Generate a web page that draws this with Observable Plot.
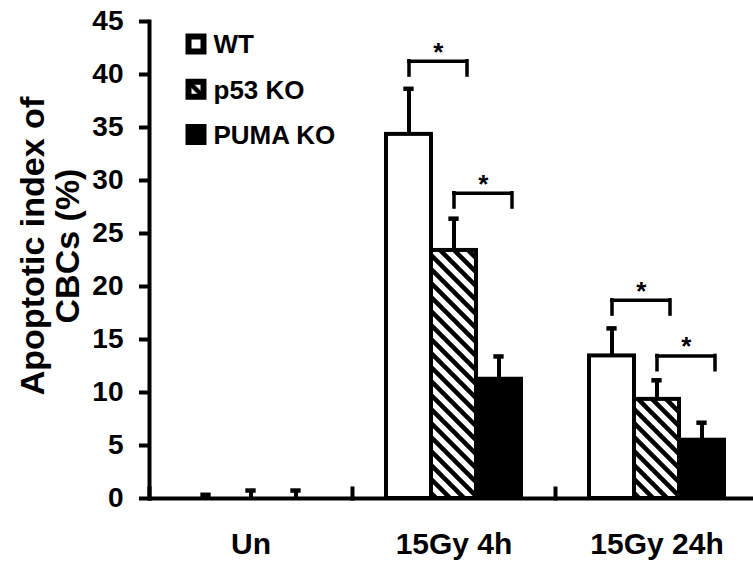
<!DOCTYPE html>
<html><head><meta charset="utf-8">
<script src="https://cdn.jsdelivr.net/npm/d3@7"></script>
<script src="https://cdn.jsdelivr.net/npm/@observablehq/plot@0.6"></script>
<style>body{margin:0;background:#fff}</style>
</head><body><div id="chart"></div>
<script>
// ---- data ----
const groups = ["Un", "15Gy 4h", "15Gy 24h"];
const series = ["WT", "p53 KO", "PUMA KO"];
const wtMean = [0, 34.35, 13.45];
const wtErr = [0.35, 4.3, 2.6];
const p53Mean = [0, 23.4, 9.35];
const p53Err = [0.75, 3.0, 1.8];
const pumaMean = [0, 11.25, 5.5];
const pumaErr = [0.75, 2.15, 1.65];
const yTicks = [0, 5, 10, 15, 20, 25, 30, 35, 40, 45];
const yLabel = "Apoptotic index of\nCBCs (%)";
const bracketGroup = ["15Gy 4h", "15Gy 4h", "15Gy 24h", "15Gy 24h"];
const bracketFrom = ["WT", "p53 KO", "WT", "p53 KO"];
const bracketTo = ["p53 KO", "PUMA KO", "p53 KO", "PUMA KO"];
const bracketTop = [41.25, 28.8, 18.7, 13.45];
const bracketLabel = ["*", "*", "*", "*"];
const legLength = 1.35;

// ---- layout ----
const W = 753, H = 564, mL = 148, mR = -5, mT = 21, mB = 66;
const facetW = (W - mL - mR) / groups.length;
const padOuter = 0.725;
const bw = facetW / (series.length + 2 * padOuter);
const plotH = H - mT - mB;
const ext = 13;
const fills = ["white", "url(#hatch)", "black"];

const means = [wtMean, p53Mean, pumaMean];
const errs = [wtErr, p53Err, pumaErr];
const rows = [];
groups.forEach((g, gi) => series.forEach((s, si) => rows.push({group: g, series: s, value: means[si][gi], upper: means[si][gi] + errs[si][gi]})));
const barRows = rows.filter(d => d.value > 0);
const brackets = bracketGroup.map((g, i) => ({group: g, from: bracketFrom[i], to: bracketTo[i], top: bracketTop[i], bottom: bracketTop[i] - legLength, label: bracketLabel[i]}));

const legendMarks = [];
series.forEach((s, i) => {
  const dy = 22.5 + i * 45.3;
  legendMarks.push(Plot.dot([groups[0]], {fx: d => d, frameAnchor: "top-left", dx: 46.5, dy, symbol: "square", r: 8.46, fill: fills[i], stroke: "black", strokeWidth: 6}));
  legendMarks.push(Plot.text([s], {fx: () => groups[0], text: d => d, frameAnchor: "top-left", dx: 64, dy: dy + 1, textAnchor: "start", lineAnchor: "middle", fontSize: 26}));
});

const svg = Plot.plot({
  width: W, height: H, marginLeft: mL, marginRight: mR, marginTop: mT, marginBottom: mB,
  style: {fontFamily: "'Liberation Sans', Arial, sans-serif", fontWeight: "bold", background: "white", color: "black"},
  fx: {domain: groups, padding: 0, label: null},
  x: {domain: series, paddingInner: 0, paddingOuter: padOuter, axis: null},
  y: {domain: [0, 45], label: null},
  color: {domain: series, range: fills},
  marks: [
    Plot.axisY({ticks: yTicks, tickSize: 10, tickPadding: 16, fontSize: 28, strokeWidth: 4, label: null}),
    Plot.axisFx({anchor: "bottom", tickSize: 0, tickPadding: 34, fontSize: 30, label: null}),
    Plot.ruleX(rows, {fx: "group", x: "series", y1: "value", y2: "upper", strokeWidth: 4}),
    Plot.tickY(rows, {fx: "group", x: "series", y: "upper", strokeWidth: 4.5, insetLeft: (bw - 11) / 2, insetRight: (bw - 11) / 2}),
    Plot.barY(barRows, {fx: "group", x: "series", y: "value", fill: "series", stroke: "black", strokeWidth: 4}),
    Plot.ruleY([0], {strokeWidth: 4}),
    Plot.frame({anchor: "left", insetTop: plotH - 10, strokeWidth: 4}),
    Plot.frame({anchor: "left", facet: "super", strokeWidth: 4}),
    Plot.ruleY(brackets, {fx: "group", x1: "from", x2: "to", y: "top", insetLeft: bw / 2, insetRight: bw / 2 - ext, strokeWidth: 3.5, strokeLinecap: "square"}),
    Plot.ruleX(brackets, {fx: "group", x: "from", y1: "bottom", y2: "top", strokeWidth: 3.5, strokeLinecap: "square"}),
    Plot.ruleX(brackets, {fx: "group", x: "to", y1: "bottom", y2: "top", dx: ext, strokeWidth: 3.5, strokeLinecap: "square"}),
    Plot.text(brackets, {fx: "group", x: "from", y: "top", text: "label", dx: (bw + ext) / 2, dy: -9, fontSize: 26, lineAnchor: "middle"}),
    Plot.text([yLabel], {fx: () => groups[0], text: d => d, frameAnchor: "left", rotate: -90, dx: -99, dy: -14, fontSize: 34, lineAnchor: "middle", textAnchor: "middle", lineHeight: 1.03}),
    ...legendMarks
  ]
});

d3.select(svg).insert("defs", ":first-child").html(
  '<pattern id="hatch" patternUnits="userSpaceOnUse" width="14" height="14">' +
  '<rect width="14" height="14" fill="white"/>' +
  '<path d="M0,0L14,14M-7,7L7,21M7,-7L21,7" stroke="black" stroke-width="4.5"/></pattern>'
);
document.getElementById("chart").appendChild(svg);
</script></body></html>
